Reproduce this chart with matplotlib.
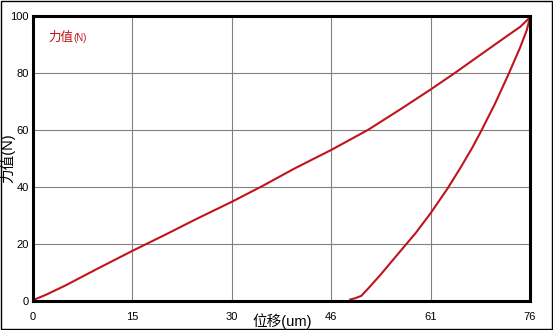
import matplotlib
matplotlib.use('Agg')
import matplotlib.pyplot as plt
from matplotlib.patches import Rectangle

plt.rcParams['font.family'] = ['Liberation Sans', 'Noto Sans CJK SC', 'DejaVu Sans']

# loading branch (displacement um, force N)
load_x = [0, 2, 5, 10, 15.2, 20, 25, 30.4, 35.2, 40, 45.6, 51.2, 56, 60.8, 64.5, 68, 72, 74.5, 76]
load_f = [0.3, 2.2, 5.5, 11.5, 17.6, 23, 28.8, 34.8, 40.5, 46.5, 53, 60, 67, 74.2, 80, 85.7, 92.2, 96.2, 99.5]

# unloading branch
unload_x = [76, 75.5, 74.5, 72.7, 70.6, 68.5, 67.1, 65.3, 63.4, 60.8, 58.5, 56.1, 54.6, 53.1, 51.5, 50.2, 49.3, 48.5]
unload_f = [99.5, 95, 89, 79.5, 69, 59.5, 53.5, 46.5, 39.5, 30.8, 23.8, 17.3, 13.2, 9.1, 5, 1.8, 1, 0.5]

x_ticks = [0, 15.2, 30.4, 45.6, 60.8, 76]
x_labels = ['0', '15', '30', '46', '61', '76']
y_ticks = [0, 20, 40, 60, 80, 100]

red = '#c0141c'

fig = plt.figure(figsize=(5.53, 3.3), dpi=100)
ax = fig.add_axes([33 / 553, 29 / 330, 497 / 553, 285 / 330])

ax.plot(load_x, load_f, color=red, linewidth=1.5)
ax.plot(unload_x, unload_f, color=red, linewidth=1.5)

ax.set_xlim(0, 76)
ax.set_ylim(0, 100)
ax.set_xticks(x_ticks)
ax.set_xticklabels(x_labels)
ax.set_yticks(y_ticks)
ax.tick_params(length=0, labelsize=8)
ax.tick_params(axis='x', pad=8)
ax.tick_params(axis='y', pad=3)
ax.grid(color='#808080', linewidth=0.8)
ax.set_axisbelow(True)
for s in ax.spines.values():
    s.set_linewidth(2.2)
    s.set_color('black')

# axis titles placed in figure pixels
fig.text(282 / 553, 1 - 321 / 330, '位移(um)', fontsize=10.5, ha='center', va='center')
fig.text(8 / 553, 1 - 158 / 330, '力值(N)', fontsize=10.5, ha='center', va='center',
         rotation=90)

ax.text(15 / 497, 1 - 22 / 285, '力值', transform=ax.transAxes, color=red,
        fontsize=9, va='center', ha='left')
ax.text(40 / 497, 1 - 22 / 285, '(N)', transform=ax.transAxes, color=red,
        fontsize=7, va='center', ha='left')

# border around the whole picture
fig.patches.append(Rectangle((0.001, 0.002), 0.997, 0.995, transform=fig.transFigure,
                             fill=False, edgecolor='black', linewidth=1))

fig.savefig('out.png', dpi=100)
